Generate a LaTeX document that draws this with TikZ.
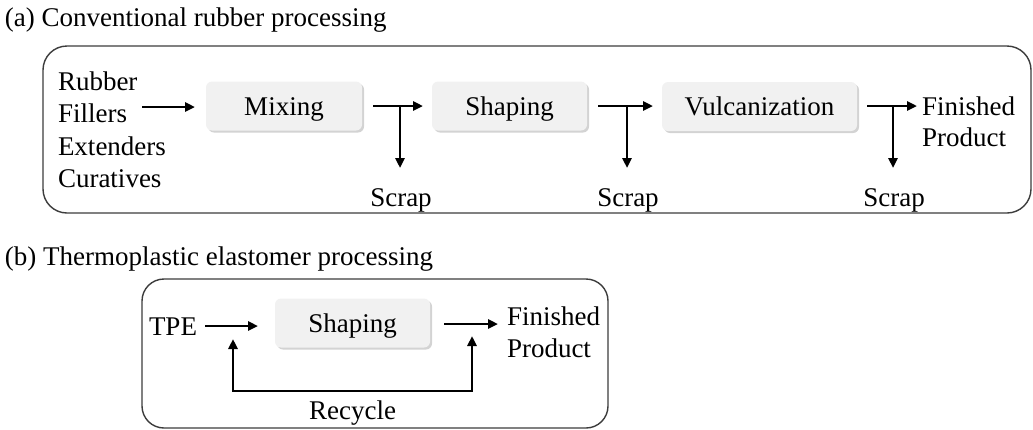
\documentclass[tikz,border=0pt]{standalone}
\usepackage{fontspec}
\setmainfont{Liberation Serif}
\usetikzlibrary{arrows.meta,shadows,calc}
\definecolor{boxfill}{RGB}{241,241,241}
\definecolor{frame}{RGB}{60,60,60}
\begin{document}
\begin{tikzpicture}[x=1pt,y=-1pt,
  txt/.style={font=\fontsize{27}{32}\selectfont, inner sep=0pt, outer sep=0pt},
  stage/.style={txt, text height=21pt, text depth=3pt, rounded corners=6pt, fill=boxfill, minimum height=49pt,
    drop shadow={shadow xshift=2pt, shadow yshift=-2pt, opacity=0.35, fill=gray}},
  frm/.style={draw=frame, line width=1.4pt},
  arr/.style={line width=2.6pt, -{Triangle[length=10pt,width=9pt]}},
  loop/.style={line width=2.6pt, line join=miter, {Triangle[length=10pt,width=9pt]}-{Triangle[length=10pt,width=9pt]}},
]
\useasboundingbox (0,0) rectangle (1033,429);

% ---------- (a) ----------
\node[txt, anchor=base west] (ta) at (5,26) {(a) Conventional rubber processing};
\draw[frm, rounded corners=24pt] (43,46) rectangle (1031,213);

\node[txt, anchor=base west] (rub) at (58,90) {Rubber};
\node[txt, anchor=base west] (fil) at (58,122.5) {Fillers};
\node[txt, anchor=base west] (ext) at (58,155) {Extenders};
\node[txt, anchor=base west] (cur) at (58,187.5) {Curatives};

\node[stage, minimum width=156pt] (mix) at (284,106) {Mixing};
\node[stage, minimum width=155pt] (shpa) at (509.5,106) {Shaping};
\node[stage, minimum width=195pt] (vul) at (759.5,106.5) {Vulcanization};

\node[txt, anchor=base west] (fin) at (922,115) {Finished};
\node[txt, anchor=base west] (pro) at (922,146) {Product};

\node[txt, anchor=base] (s1) at (401,206) {Scrap};
\node[txt, anchor=base] (s2) at (628,206) {Scrap};
\node[txt, anchor=base] (s3) at (894,206) {Scrap};

% horizontal flow arrows (free ends are named coordinates)
\coordinate (in0) at (142,107);
\coordinate (in1) at (195,107);
\coordinate (m0) at (373,106);
\coordinate (m1) at (423,106);
\coordinate (h0) at (598,106);
\coordinate (h1) at (653,106);
\coordinate (v0) at (867,106);
\coordinate (v1) at (917,106);
\draw[arr] (in0) -- (in1);
\draw[arr] (m0) -- (m1);
\draw[arr] (h0) -- (h1);
\draw[arr] (v0) -- (v1);

% scrap arrows
\coordinate (j1) at (400,105);
\coordinate (j2) at (627,105);
\coordinate (j3) at (893,105);
\coordinate (k1) at (400,168);
\coordinate (k2) at (627,168);
\coordinate (k3) at (893,168);
\draw[arr] (j1) -- (k1);
\draw[arr] (j2) -- (k2);
\draw[arr] (j3) -- (k3);

% ---------- (b) ----------
\node[txt, anchor=base west] (tb) at (5,265) {(b) Thermoplastic elastomer processing};
\draw[frm, rounded corners=22pt] (142,279) rectangle (608,428);

\node[txt, anchor=base east] (tpe) at (197,335) {TPE};
\node[stage, minimum width=155pt] (shpb) at (352.5,323) {Shaping};
\node[txt, anchor=base west] (finb) at (507,325) {Finished};
\node[txt, anchor=base west] (prob) at (507,357) {Product};
\node[txt, anchor=base] (rec) at (352.5,419) {Recycle};

\coordinate (t0) at (205,326);
\coordinate (t1) at (258,326);
\coordinate (o0) at (444,324);
\coordinate (o1) at (498,324);
\draw[arr] (t0) -- (t1);
\draw[arr] (o0) -- (o1);

\coordinate (r1) at (233,339);
\coordinate (r2) at (472,336);
\coordinate (rb1) at (233,391);
\coordinate (rb2) at (472,391);
\draw[loop] (r1) -- (rb1) -- (rb2) -- (r2);
\end{tikzpicture}
\end{document}
